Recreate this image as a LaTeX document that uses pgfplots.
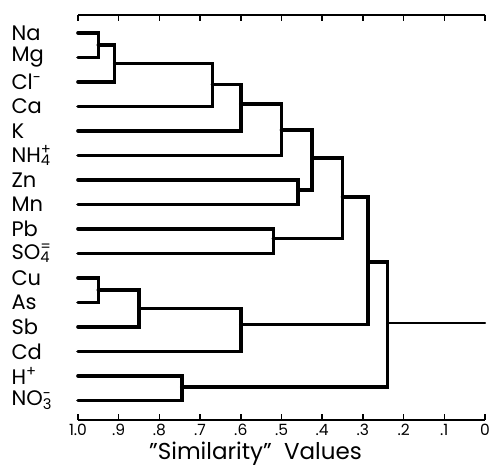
\documentclass[border=0pt]{standalone}
\usepackage{fontspec}
\setmainfont{Poppins}
\usepackage{pgfplots}
\pgfplotsset{compat=1.18}
\newcommand{\supsub}[2]{\rlap{\textsuperscript{#1}}\textsubscript{#2}}
\begin{document}
\begin{tikzpicture}
\useasboundingbox (-78pt,-53pt) rectangle (411pt,420pt);
\begin{axis}[
  at={(0pt,0pt)}, anchor=south west,
  scale only axis, width=407pt, height=405pt,
  xmin=0, xmax=1, x dir=reverse,
  ymin=0.27, ymax=16.8, y dir=reverse,
  clip=false,
  separate axis lines,
  y axis line style={draw=none},
  x axis line style={line width=1.8pt},
  xtick={0,0.1,0.2,0.3,0.4,0.5,0.6,0.7,0.8,0.9,1.0},
  xticklabels={0,.1,.2,.3,.4,.5,.6,.7,.8,.9,1.0},
  tick align=inside,
  major tick length=6pt,
  xtick style={line width=1.6pt, black},
  ytick={1,...,16},
  yticklabels={Na,Mg,Cl\textsuperscript{-},Ca,K,NH\supsub{+}{4},Zn,Mn,Pb,SO\supsub{=}{4},Cu,As,Sb,Cd,H\textsuperscript{+},NO\supsub{-}{3}},
  ytick style={draw=none},
  yticklabel style={anchor=west, xshift=-70pt, font=\fontsize{21}{21}\selectfont},
  xticklabel style={font=\fontsize{15.5}{15.5}\selectfont, yshift=-1pt},
  xlabel={"Similarity"\ \ Values},
  xlabel style={font=\fontsize{23}{23}\selectfont, xshift=-26pt, yshift=1pt},
]
\pgfplotsset{every axis plot/.append style={line width=3.6pt, black, line join=miter, line cap=round}}
% each merge: child1 -> join -> child2
\addplot[mark=none] coordinates {(1.0,1) (0.95,1) (0.95,2) (1.0,2)};
\addplot[mark=none] coordinates {(0.95,1.5) (0.91,1.5) (0.91,3) (1.0,3)};
\addplot[mark=none] coordinates {(0.91,2.25) (0.67,2.25) (0.67,4) (1.0,4)};
\addplot[mark=none] coordinates {(0.67,3.1) (0.60,3.1) (0.60,5) (1.0,5)};
\addplot[mark=none] coordinates {(0.60,3.9) (0.50,3.9) (0.50,6) (1.0,6)};
\addplot[mark=none] coordinates {(1.0,7) (0.46,7) (0.46,8) (1.0,8)};
\addplot[mark=none] coordinates {(0.50,4.97) (0.425,4.97) (0.425,7.42) (0.46,7.42)};
\addplot[mark=none] coordinates {(1.0,9) (0.52,9) (0.52,10) (1.0,10)};
\addplot[mark=none] coordinates {(0.425,6.1) (0.35,6.1) (0.35,9.4) (0.52,9.4)};
\addplot[mark=none] coordinates {(1.0,11) (0.95,11) (0.95,12) (1.0,12)};
\addplot[mark=none] coordinates {(0.95,11.5) (0.85,11.5) (0.85,13) (1.0,13)};
\addplot[mark=none] coordinates {(0.85,12.25) (0.60,12.25) (0.60,14) (1.0,14)};
\addplot[mark=none] coordinates {(0.35,7.7) (0.287,7.7) (0.287,12.9) (0.60,12.9)};
\addplot[mark=none] coordinates {(1.0,15) (0.745,15) (0.745,16) (1.0,16)};
\addplot[mark=none] coordinates {(0.287,10.35) (0.24,10.35) (0.24,15.45) (0.745,15.45)};
\addplot[mark=none, line width=2.2pt] coordinates {(0.24,12.84) (0,12.84)};
\end{axis}
\end{tikzpicture}
\end{document}
